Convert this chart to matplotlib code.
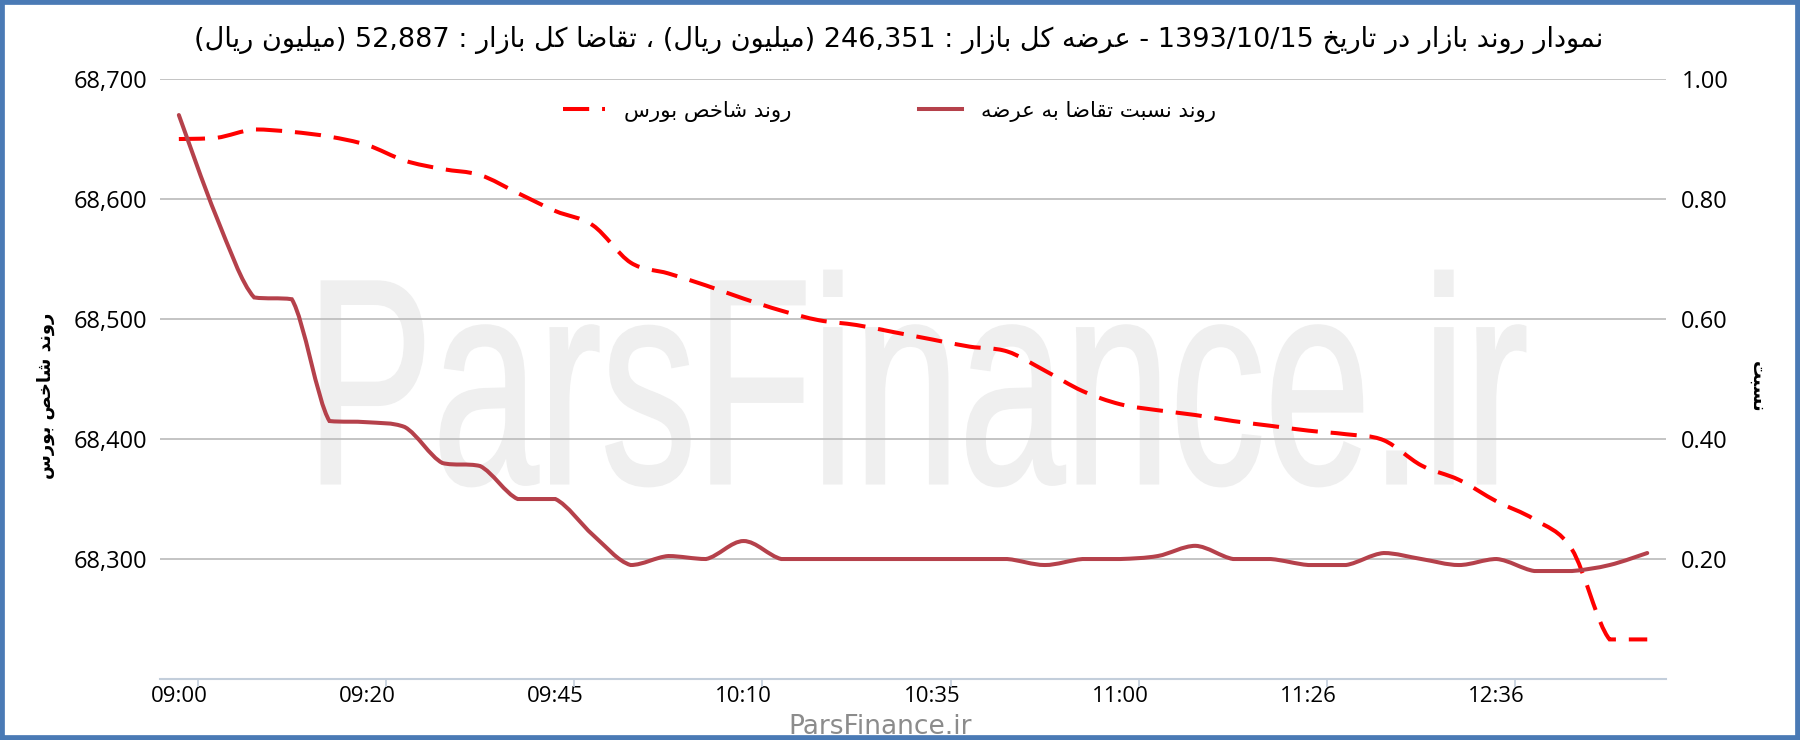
import re
import matplotlib
matplotlib.use("Agg")
import matplotlib.pyplot as plt
from matplotlib.path import Path
from matplotlib.patches import PathPatch, Rectangle
from matplotlib.lines import Line2D
from matplotlib.textpath import TextPath
from matplotlib.font_manager import FontProperties
from matplotlib.transforms import Affine2D

# ---- data (one point per sampling time, 40 samples) ----
index_values = [68650, 68651, 68658, 68656, 68652, 68645, 68632, 68625, 68620, 68605,
                68590, 68578, 68547, 68538, 68528, 68517, 68507, 68499, 68495, 68489,
                68483, 68477, 68473, 68457, 68440, 68429, 68424, 68420, 68415, 68411,
                68407, 68404, 68399, 68378, 68366, 68348, 68333, 68308, 68233, 68233]
ratio_values = [0.94, 0.77, 0.636, 0.633, 0.43, 0.428, 0.42, 0.36, 0.355, 0.30,
                0.30, 0.24, 0.19, 0.205, 0.20, 0.23, 0.20, 0.20, 0.20, 0.20,
                0.20, 0.20, 0.20, 0.19, 0.20, 0.20, 0.205, 0.222, 0.20, 0.20,
                0.19, 0.19, 0.21, 0.20, 0.19, 0.20, 0.18, 0.18, 0.19, 0.21]
time_labels = ["09:00", "09:20", "09:45", "10:10", "10:35", "11:00", "11:26", "12:36"]
label_every = 5
left_ticks = [68300, 68400, 68500, 68600, 68700]
right_ticks = [0.2, 0.4, 0.6, 0.8, 1.0]

title = "نمودار روند بازار در تاریخ 1393/10/15 - عرضه کل بازار : 246,351 (میلیون ریال) ، تقاضا کل بازار : 52,887 (میلیون ریال)"
index_name = "روند شاخص بورس"
ratio_name = "روند نسبت تقاضا به عرضه"
right_name = "نسبت"

# ---- minimal Persian shaping + RTL ordering (matplotlib has no bidi) ----
FORMS = {  # letter: (first presentation form, number of forms)
    0x0627: (0xFE8D, 2), 0x062F: (0xFEA9, 2), 0x0631: (0xFEAD, 2), 0x0632: (0xFEAF, 2),
    0x0648: (0xFEED, 2), 0x0628: (0xFE8F, 4), 0x062A: (0xFE95, 4), 0x062E: (0xFEA5, 4),
    0x0633: (0xFEB1, 4), 0x0634: (0xFEB5, 4), 0x0635: (0xFEB9, 4), 0x0636: (0xFEBD, 4),
    0x0639: (0xFEC9, 4), 0x0642: (0xFED5, 4), 0x0644: (0xFEDD, 4), 0x0645: (0xFEE1, 4),
    0x0646: (0xFEE5, 4), 0x0647: (0xFEE9, 4), 0x06CC: (0xFBFC, 4), 0x06A9: (0xFB8E, 4),
}


def shape(s):
    out = []
    for i, ch in enumerate(s):
        f = FORMS.get(ord(ch))
        if f is None:
            out.append(ch)
            continue
        prev = FORMS.get(ord(s[i - 1])) if i > 0 else None
        nxt = FORMS.get(ord(s[i + 1])) if i + 1 < len(s) else None
        k = (1 if prev is not None and prev[1] == 4 else 0) + (2 if f[1] == 4 and nxt is not None else 0)
        out.append(chr(f[0] + k))
    return "".join(out)


def rtl(s):
    toks = re.findall(r"\d[\d,./]*\d|\d|.", shape(s))
    mirror = {"(": ")", ")": "("}
    return "".join(mirror.get(t, t) for t in reversed(toks))


def smooth_path(xs, ys):
    # Bezier curve through the points, control points kept inside each segment's range
    verts = [(xs[0], ys[0])]
    codes = [Path.MOVETO]
    n = len(xs)
    for i in range(n - 1):
        xa, ya = (xs[i - 1], ys[i - 1]) if i > 0 else (xs[i], ys[i])
        xb, yb = (xs[i + 2], ys[i + 2]) if i + 2 < n else (xs[i + 1], ys[i + 1])
        lo, hi = min(ys[i], ys[i + 1]), max(ys[i], ys[i + 1])
        c1y = min(max(ys[i] + (ys[i + 1] - ya) / 6, lo), hi)
        c2y = min(max(ys[i + 1] - (yb - ys[i]) / 6, lo), hi)
        verts.append((xs[i] + (xs[i + 1] - xa) / 6, c1y))
        verts.append((xs[i + 1] - (xb - xs[i]) / 6, c2y))
        verts.append((xs[i + 1], ys[i + 1]))
        codes += [Path.CURVE4] * 3
    return Path(verts, codes)


plt.rcParams["font.family"] = ["DejaVu Sans"]
num_font = "Open Sans"

fig = plt.figure(figsize=(18, 7.4), dpi=100, facecolor="white")
ax = fig.add_axes([0.0889, 0.0824, 0.8367, 0.8108])
ax.set_facecolor("none")
ax2 = ax.twinx()

x = list(range(len(index_values)))
ax.set_xlim(-0.5, len(x) - 0.5)
ax.set_ylim(68200, 68700)
ax2.set_ylim(0, 1)

# watermark
tp = TextPath((0, 0), "ParsFinance.ir", size=100, prop=FontProperties(family="Liberation Sans"))
bb = tp.get_extents()
wx0, wx1 = 322 / 1800, 1525 / 1800
wyb, wyt = 1 - 486 / 740, 1 - 271 / 740
wt = Affine2D().translate(-bb.x0, -bb.y0).scale((wx1 - wx0) / bb.width, (wyt - wyb) / bb.height).translate(wx0, wyb)
ax.add_patch(PathPatch(tp, transform=wt + fig.transFigure, facecolor="#efefef", edgecolor="#efefef",
                       linewidth=2, zorder=0.1))

# grid
ax.set_axisbelow(True)
ax.set_yticks(left_ticks)
ax.grid(axis="y", color="#bfbfbf", linewidth=1.3)
ax.grid(axis="x", visible=False)

dash = (0, (6.5, 3.2))
index_color = "#ff0000"
ratio_color = "#b5414b"
ax.add_patch(PathPatch(smooth_path(x, index_values), fill=False, edgecolor=index_color,
                       linewidth=2.9, linestyle=dash, capstyle="butt", zorder=3))
ax2.add_patch(PathPatch(smooth_path(x, ratio_values), fill=False, edgecolor=ratio_color,
                        linewidth=2.9, capstyle="round", zorder=3))

# y axes
ax.set_yticklabels([f"{v:,}" for v in left_ticks], fontname=num_font, fontsize=17)
ax.tick_params(axis="y", length=0, pad=9)
ax2.set_yticks(right_ticks)
ax2.set_yticklabels([f"{v:.2f}" for v in right_ticks], fontname=num_font, fontsize=17)
ax2.tick_params(axis="y", length=0, pad=11)

# x axis
ax.set_xticks(x[::label_every])
ax.set_xticklabels(time_labels, fontname=num_font, fontsize=16)
ax.set_xticks([i + 0.5 for i in x[::label_every]], minor=True)
ax.tick_params(axis="x", which="major", length=0, pad=5)
ax.tick_params(axis="x", which="minor", length=6, width=1.2, color="#c3cedb")

for a in (ax, ax2):
    for s in ("top", "left", "right", "bottom"):
        a.spines[s].set_visible(False)
ax.spines["bottom"].set_visible(True)
ax.spines["bottom"].set_color("#c3cedb")
ax.spines["bottom"].set_linewidth(1.5)

# legend
handles = [Line2D([], [], color=index_color, linewidth=2.9, linestyle=dash, dash_capstyle="butt"),
           Line2D([], [], color=ratio_color, linewidth=2.9)]
fig.legend(handles, [rtl(index_name), rtl(ratio_name)], loc="center", bbox_to_anchor=(0.494, 0.85),
           ncol=2, frameon=False, fontsize=15.3, handlelength=2.0, handletextpad=0.9, columnspacing=6.0)

# texts
fig.text(0.499, 0.946, rtl(title), ha="center", va="center", fontsize=19.5)
fig.text(46 / 1800, 1 - 396 / 740, rtl(index_name), rotation=90, ha="center", va="center",
         fontsize=13, fontweight="bold")
fig.text(1757 / 1800, 1 - 387 / 740, rtl(right_name), rotation=270, ha="center", va="center",
         fontsize=13, fontweight="bold")
fig.text(0.489, 1 - 734 / 740, "ParsFinance.ir", ha="center", va="baseline", fontsize=19, color="#8c8c8c")

# blue frame
fig.patches.append(Rectangle((0, 0), 1, 1, transform=fig.transFigure, fill=False,
                             edgecolor="#4a7ab5", linewidth=7, zorder=10))

fig.savefig("out.png", dpi=100, facecolor="white")
